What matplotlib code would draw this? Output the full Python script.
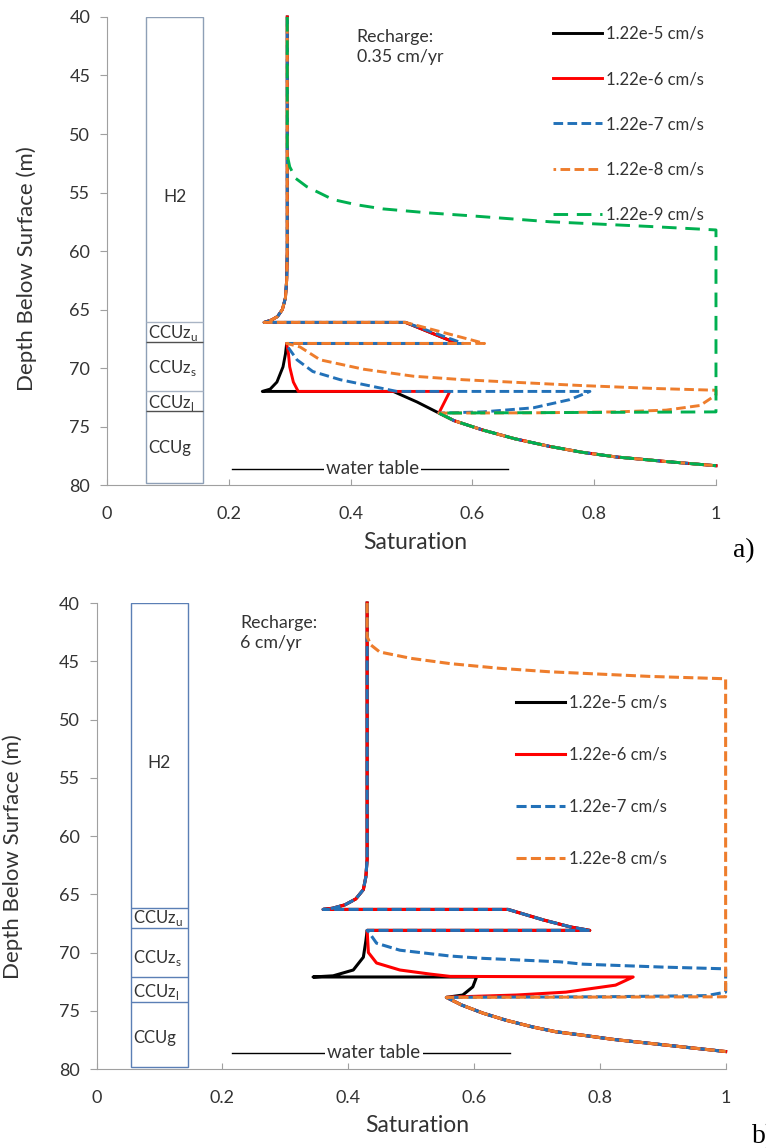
import matplotlib.pyplot as plt
from matplotlib.patches import Rectangle

plt.rcParams['font.family'] = ['Lato', 'DejaVu Sans']

LABELS_A = ['1.22e-5 cm/s', '1.22e-6 cm/s', '1.22e-7 cm/s', '1.22e-8 cm/s', '1.22e-9 cm/s']
LABELS_B = LABELS_A[:4]
X_TICKS = [0, 0.2, 0.4, 0.6, 0.8, 1.0]
X_TICK_LABELS = ['0', '0.2', '0.4', '0.6', '0.8', '1']
Y_TICKS = [40, 45, 50, 55, 60, 65, 70, 75, 80]

# ---- panel a (recharge 0.35 cm/yr) ----
UPPER_A_SAT = [0.296, 0.296, 0.295, 0.293, 0.288, 0.280, 0.270, 0.258, 0.490]
UPPER_A_DEPTH = [40.0, 60.0, 62.5, 64.0, 65.0, 65.6, 65.9, 66.1, 66.1]
TIP_A = [0.575, 0.575, 0.585, 0.620]   # end of CCUzu wedge, per K
BASE_ZU_A = [0.295, 67.9]

ZS_A_K5_SAT = [0.293, 0.289, 0.279, 0.268, 0.255, 0.470, 0.509, 0.545]
ZS_A_K5_DEPTH = [68.8, 69.9, 71.2, 71.8, 72.0, 72.0, 72.9, 73.85]
ZS_A_K6_SAT = [0.298, 0.300, 0.306, 0.314, 0.563, 0.545]
ZS_A_K6_DEPTH = [68.8, 69.9, 71.2, 72.0, 72.0, 73.85]
ZS_A_K7_SAT = [0.297, 0.312, 0.338, 0.383, 0.448, 0.476, 0.793, 0.760, 0.700, 0.617, 0.545]
ZS_A_K7_DEPTH = [68.2, 69.3, 70.3, 71.0, 71.7, 72.0, 72.0, 72.7, 73.4, 73.75, 73.85]
ZS_A_K8_SAT = [0.317, 0.350, 0.421, 0.503, 0.585, 0.662, 0.780, 0.900, 1.0, 1.0, 0.974, 0.918, 0.836, 0.700, 0.545]
ZS_A_K8_DEPTH = [68.2, 69.3, 70.1, 70.7, 71.0, 71.2, 71.5, 71.75, 71.9, 72.3, 73.2, 73.6, 73.75, 73.83, 73.85]
K9_A_SAT = [0.296, 0.296, 0.300, 0.310, 0.328, 0.371, 0.410, 0.453, 0.530, 0.600, 0.727, 0.890, 1.0, 1.0, 0.545]
K9_A_DEPTH = [40.0, 51.8, 52.8, 53.8, 54.5, 55.6, 56.05, 56.4, 56.75, 57.0, 57.5, 57.9, 58.2, 73.75, 73.85]

COMMON_A_SAT = [0.545, 0.570, 0.617, 0.670, 0.727, 0.780, 0.836, 0.920, 1.0]
COMMON_A_DEPTH = [73.85, 74.5, 75.3, 76.05, 76.7, 77.2, 77.6, 78.0, 78.35]

# ---- panel b (recharge 6 cm/yr) ----
UPPER_B_SAT = [0.430, 0.430, 0.428, 0.424, 0.412, 0.395, 0.375, 0.360, 0.654, 0.710, 0.753, 0.784, 0.430]
UPPER_B_DEPTH = [40.0, 62.0, 63.5, 64.6, 65.4, 65.9, 66.2, 66.3, 66.3, 67.2, 67.8, 68.1, 68.1]

ZS_B_K5_SAT = [0.428, 0.424, 0.408, 0.376, 0.344, 0.604, 0.598, 0.582, 0.556]
ZS_B_K5_DEPTH = [69.0, 70.4, 71.5, 72.0, 72.1, 72.1, 72.95, 73.65, 73.85]
ZS_B_K6_SAT = [0.432, 0.445, 0.482, 0.530, 0.562, 0.853, 0.825, 0.746, 0.667, 0.578, 0.556]
ZS_B_K6_DEPTH = [70.0, 70.9, 71.5, 71.85, 72.05, 72.1, 72.8, 73.4, 73.65, 73.8, 73.85]
ZS_B_K7_SAT = [0.432, 0.445, 0.482, 0.562, 0.614, 0.737, 0.773, 0.900, 1.0, 1.0, 0.970, 0.800, 0.556]
ZS_B_K7_DEPTH = [68.2, 69.2, 69.8, 70.3, 70.5, 70.8, 71.0, 71.25, 71.4, 73.4, 73.7, 73.8, 73.85]
K8_B_SAT = [0.430, 0.430, 0.436, 0.450, 0.500, 0.562, 0.640, 0.720, 0.800, 0.880, 1.0, 1.0, 0.556]
K8_B_DEPTH = [40.0, 42.9, 43.6, 44.2, 44.75, 45.2, 45.6, 45.9, 46.1, 46.3, 46.5, 73.8, 73.85]

COMMON_B_SAT = [0.556, 0.580, 0.614, 0.650, 0.694, 0.730, 0.773, 0.820, 0.880, 0.940, 1.0]
COMMON_B_DEPTH = [73.85, 74.5, 75.2, 75.8, 76.4, 76.8, 77.1, 77.45, 77.8, 78.15, 78.5]

# ---- stratigraphic column ----
COL_A = [0.064, 0.158]
LAYER_A = [66.1, 67.75, 72.0, 73.7]
COL_B = [0.054, 0.145]
LAYER_B = [66.2, 67.9, 72.1, 74.25]
UNIT_NAMES = ['H2', r'CCUz$_\mathregular{u}$', r'CCUz$_\mathregular{s}$', r'CCUz$_\mathregular{l}$', 'CCUg']
UNIT_DEPTH_A = [55.4, 67.0, 70.0, 73.0, 76.8]
UNIT_DEPTH_B = [53.7, 67.0, 70.5, 73.4, 77.3]

WT_A = [0.205, 0.658]
WT_B = [0.215, 0.657]
WT_DEPTH = 78.6

COLORS = ['#000000', '#ff0000', '#2271b8', '#ee7d2c', '#00b050']


def build(upper_sat, upper_depth, mid_sat, mid_depth, common_sat, common_depth):
    return upper_sat + mid_sat + common_sat, upper_depth + mid_depth + common_depth


curves_a = []
for k, (ms, md) in enumerate([(ZS_A_K5_SAT, ZS_A_K5_DEPTH), (ZS_A_K6_SAT, ZS_A_K6_DEPTH),
                              (ZS_A_K7_SAT, ZS_A_K7_DEPTH), (ZS_A_K8_SAT, ZS_A_K8_DEPTH)]):
    s = UPPER_A_SAT + [TIP_A[k], BASE_ZU_A[0]]
    d = UPPER_A_DEPTH + [BASE_ZU_A[1], BASE_ZU_A[1]]
    curves_a.append(build(s, d, ms, md, COMMON_A_SAT, COMMON_A_DEPTH))
curves_a.append((K9_A_SAT + COMMON_A_SAT, K9_A_DEPTH + COMMON_A_DEPTH))

curves_b = []
for ms, md in [(ZS_B_K5_SAT, ZS_B_K5_DEPTH), (ZS_B_K6_SAT, ZS_B_K6_DEPTH), (ZS_B_K7_SAT, ZS_B_K7_DEPTH)]:
    curves_b.append(build(UPPER_B_SAT, UPPER_B_DEPTH, ms, md, COMMON_B_SAT, COMMON_B_DEPTH))
curves_b.append((K8_B_SAT + COMMON_B_SAT, K8_B_DEPTH + COMMON_B_DEPTH))

styles_a = ['-', '-', (0, (3.3, 1.5)), (2.4, (3.3, 1.5)), (0, (5, 3))]
styles_b = ['-', '-', (0, (3.3, 1.4)), (0, (3.3, 1.4))]

AXIS_GRAY = '#a0a0a0'
TEXT_GRAY = '#333333'


def setup_axes(ax):
    ax.set_xlim(0, 1)
    ax.set_ylim(80, 40)
    ax.set_xticks(X_TICKS)
    ax.set_xticklabels(X_TICK_LABELS)
    ax.set_yticks(Y_TICKS)
    for side in ['top', 'right']:
        ax.spines[side].set_visible(False)
    for side in ['left', 'bottom']:
        ax.spines[side].set_color(AXIS_GRAY)
    ax.tick_params(axis='y', direction='out', length=5, color=AXIS_GRAY,
                   labelsize=13, labelcolor=TEXT_GRAY, pad=7)
    ax.tick_params(axis='x', direction='in', length=4, color=AXIS_GRAY,
                   labelsize=13, labelcolor=TEXT_GRAY, pad=15)
    ax.set_xlabel('Saturation', fontsize=16.5, color=TEXT_GRAY)
    ax.set_ylabel('Depth Below Surface (m)', fontsize=16, color=TEXT_GRAY)


def draw_column(ax, col, layers, unit_depths, edge, dark):
    ax.add_patch(Rectangle((col[0], 40.0), col[1] - col[0], 39.8,
                           facecolor='white', edgecolor=edge, lw=1.0))
    for i, d in enumerate(layers):
        ax.hlines(d, col[0], col[1], color=dark[i], lw=1.0)
    ax.text((col[0] + col[1]) / 2, unit_depths[0], UNIT_NAMES[0], ha='center', va='center',
            fontsize=12.5, color=TEXT_GRAY)
    for name, d in zip(UNIT_NAMES[1:], unit_depths[1:]):
        ax.text(col[0] + 0.004, d, name, ha='left', va='center', fontsize=12, color=TEXT_GRAY)


def draw_water_table(ax, wt):
    ax.plot(wt, [WT_DEPTH, WT_DEPTH], color='black', lw=1.0)
    ax.text((wt[0] + wt[1]) / 2 + 0.005, WT_DEPTH, 'water table', ha='center', va='center',
            fontsize=13.5, color=TEXT_GRAY,
            bbox=dict(facecolor='white', edgecolor='none', pad=1.5))


fig = plt.figure(figsize=(7.66, 11.48), dpi=100)
ax_a = fig.add_axes([0.1397, 0.5775, 0.795, 0.4077])
ax_b = fig.add_axes([0.1262, 0.0688, 0.8211, 0.4059])

# panel a
setup_axes(ax_a)
ax_a.yaxis.set_label_coords(-0.115, 0.462)
ax_a.xaxis.set_label_coords(0.507, -0.10)
draw_column(ax_a, COL_A, LAYER_A, UNIT_DEPTH_A, '#8e9fb6',
            ['#a9b4c4', '#505050', '#a9b4c4', '#505050'])
draw_water_table(ax_a, WT_A)
for (s, d), c, ls, lab in zip(curves_a, COLORS, styles_a, LABELS_A):
    ax_a.plot(s, d, color=c, ls=ls, lw=2.1, label=lab, clip_on=False)
ax_a.text(0.41, 42.6, 'Recharge:\n0.35 cm/yr', fontsize=12.8, color=TEXT_GRAY,
          va='center', ha='left', linespacing=1.3)
ax_a.legend(loc='upper left', bbox_to_anchor=(0.733, 0.981), frameon=False,
            fontsize=12, handlelength=2.9, handletextpad=0.25, labelspacing=1.75,
            borderpad=0, borderaxespad=0, labelcolor=TEXT_GRAY)
fig.text(0.957, 0.515, 'a)', family='Liberation Serif', fontsize=20, ha='left', va='baseline')

# panel b
setup_axes(ax_b)
ax_b.yaxis.set_label_coords(-0.117, 0.455)
ax_b.xaxis.set_label_coords(0.51, -0.099)
draw_column(ax_b, COL_B, LAYER_B, UNIT_DEPTH_B, '#5b7fb5', ['#5b7fb5'] * 4)
draw_water_table(ax_b, WT_B)
for (s, d), c, ls, lab in zip(curves_b, COLORS, styles_b, LABELS_B):
    ax_b.plot(s, d, color=c, ls=ls, lw=2.2, label=lab, clip_on=False)
ax_b.text(0.228, 42.6, 'Recharge:\n6 cm/yr', fontsize=12.8, color=TEXT_GRAY,
          va='center', ha='left', linespacing=1.3)
ax_b.legend(loc='upper left', bbox_to_anchor=(0.667, 0.803), frameon=False,
            fontsize=12, handlelength=2.9, handletextpad=0.25, labelspacing=2.15,
            borderpad=0, borderaxespad=0, labelcolor=TEXT_GRAY)
fig.text(0.982, 0.004, 'b)', family='Liberation Serif', fontsize=20, ha='left', va='baseline')

fig.savefig('out.png', dpi=100)
